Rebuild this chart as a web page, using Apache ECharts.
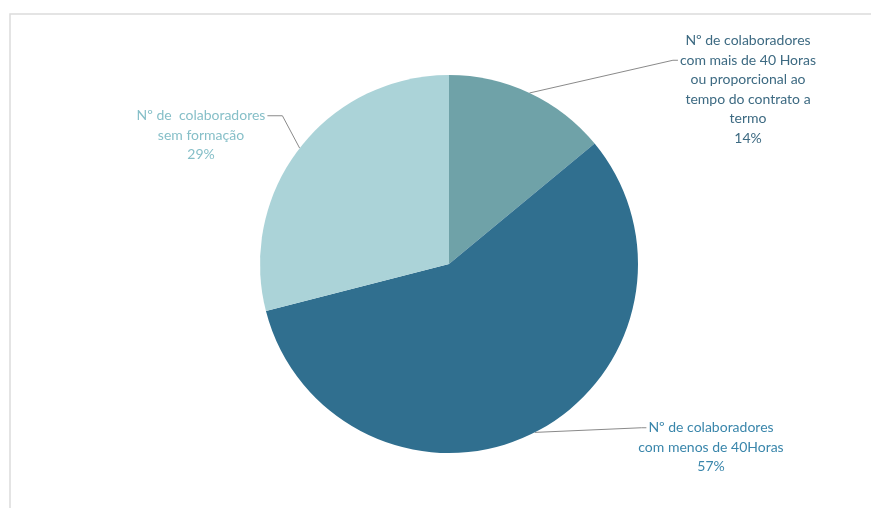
<!DOCTYPE html>
<html>
<head>
    <meta charset="UTF-8">
    <title>Colaboradores - formação</title>
    <script src="https://cdn.jsdelivr.net/npm/echarts@6/dist/echarts.min.js"></script>
    <style>
        html, body { margin: 0; padding: 0; background: #fff; }
        #main { width: 871px; height: 508px; }
    </style>
</head>
<body>
<div id="main"></div>
<script type="text/javascript">
    // dados (percentagens)
    var categorias = [
        'Nº de colaboradores\ncom mais de 40 Horas\nou proporcional ao\ntempo do contrato a\ntermo',
        'Nº de colaboradores\ncom menos de 40Horas',
        'Nº de  colaboradores\nsem formação'
    ];
    var valores = [14, 57, 29];
    var cores = ['#6fa2a8', '#306f8f', '#abd3d8'];
    var coresTexto = ['#3d6a82', '#3a86ab', '#86bfc8'];
    // posição (centro x, topo y) de cada rótulo
    var posRotulos = [[748, 31], [711, 418], [201, 106]];
    // linha do rótulo onde a linha de ligação encosta, e de que lado
    var linhaAncora = [1, 0, 0];
    var ladoAncora = ['left', 'left', 'right'];

    var FONTE = '14px Lato';
    var ALTURA_LINHA = 19.5;
    var medidor = document.createElement('canvas').getContext('2d');
    medidor.font = FONTE;

    var chartDom = document.getElementById('main');
    var myChart = echarts.init(chartDom);
    var option;

    var dados = [];
    for (var i = 0; i < categorias.length; i++) {
        dados.push({
            name: categorias[i],
            value: valores[i],
            itemStyle: { color: cores[i] },
            label: { color: coresTexto[i] }
        });
    }

    option = {
        animation: false,
        backgroundColor: '#fff',
        graphic: [{
            type: 'polyline',
            shape: { points: [[10, 520], [10, 14], [880, 14]] },
            style: { stroke: '#dcdcdc', lineWidth: 1.5, fill: null }
        }],
        series: [{
            type: 'pie',
            center: [449, 264],
            radius: 189,
            startAngle: 90,
            clockwise: true,
            data: dados,
            label: {
                show: true,
                position: 'outside',
                formatter: '{b}\n{d}%',
                fontFamily: 'Lato',
                fontSize: 14,
                lineHeight: ALTURA_LINHA,
                align: 'center'
            },
            labelLine: {
                show: true,
                length: 20,
                length2: 20,
                lineStyle: { color: '#8a8a8a', width: 1 }
            },
            labelLayout: function (params) {
                var k = params.dataIndex;
                var p = posRotulos[k];
                var linha = categorias[k].split('\n')[linhaAncora[k]];
                var w = medidor.measureText(linha).width;
                var yA = p[1] + (linhaAncora[k] + 0.5) * ALTURA_LINHA;
                var inicio = params.labelLinePoints ? params.labelLinePoints[0] : null;
                var res = {
                    x: p[0],
                    y: p[1],
                    align: 'center',
                    verticalAlign: 'top'
                };
                if (inicio) {
                    var xA, xM;
                    if (ladoAncora[k] === 'left') {
                        xA = p[0] - w / 2 - 2;
                        xM = xA - 5;
                    } else {
                        xA = p[0] + w / 2 + 2;
                        xM = xA + 15;
                    }
                    res.labelLinePoints = [inicio, [xM, yA], [xA, yA]];
                }
                return res;
            },
            emphasis: { disabled: true }
        }]
    };

    option && myChart.setOption(option);
</script>
</body>
</html>
